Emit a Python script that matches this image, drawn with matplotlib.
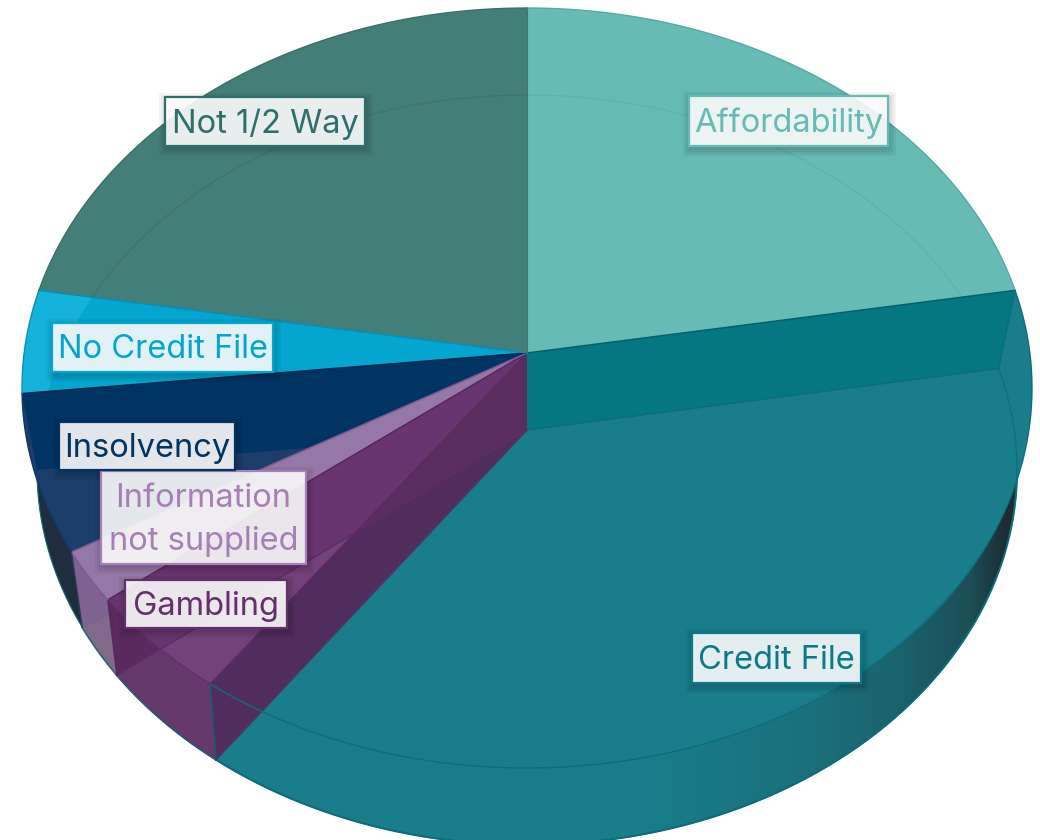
import numpy as np
import matplotlib
matplotlib.use("Agg")
import matplotlib.pyplot as plt
from matplotlib.patches import Polygon, Rectangle
from matplotlib.colors import to_rgb

# order is clockwise from 12 o'clock
categories = ["Affordability", "Credit File", "Gambling", "Information\nnot supplied",
              "Insolvency", "No Credit File", "Not 1/2 Way"]
values = [22.3, 37.6, 4.5, 2.2, 6.7, 4.4, 22.3]

top_colors = ["#66BBB5", "#197D8B", "#74427A", "#9678A8", "#1B3E6A", "#15B2DC", "#447E78"]
rim_colors = ["#66BBB5", "#197D8B", "#66396C", "#80698A", "#1E2E3E", "#15B2DC", "#447E78"]
text_colors = ["#66BBB5", "#0A7A88", "#62306B", "#A680B4", "#003463", "#04A6CF", "#2D6F6A"]
edge_colors = ["#55A9A3", "#0E6E7A", "#5F2E66", "#7C5A92", "#12375E", "#0A8FB5", "#3A6F6A"]

# label boxes: left, top, right, bottom in pixels
boxes = [(689, 96, 888, 146), (692, 633, 861, 683), (125, 580, 287, 628),
         (101, 471, 306, 564), (59, 422, 235, 470), (52, 323, 273, 372), (165, 97, 365, 146)]

CX = 527


def make_face(top, bottom, apex, rx):
    k = (1 - (apex - top) / (bottom - apex)) / (1 + (apex - top) / (bottom - apex))
    b = (apex - top) * (1 + k)
    a = rx * np.sqrt(1 - k * k)
    return {"a": a, "b": b, "k": k, "apex": apex}


FACE_A = make_face(8, 768, 353, 505)
FACE_B = make_face(95, 845, 430, 490)


def rim(face, theta):
    u = np.sin(theta)
    v = np.cos(theta)
    d = 1 + face["k"] * v
    return np.column_stack([CX + face["a"] * u / d, face["apex"] - face["b"] * v / d])


def arc(face, t0, t1):
    return rim(face, np.linspace(t0, t1, 200))


def sector(face, t0, t1):
    return np.vstack([[CX, face["apex"]], arc(face, t0, t1)])


def wall(t):
    a = rim(FACE_A, np.array([t]))[0]
    b = rim(FACE_B, np.array([t]))[0]
    return np.array([[CX, FACE_A["apex"]], a, b, [CX, FACE_B["apex"]]])


def poly(ax, pts, color, z, clip=None):
    p = Polygon(pts, closed=True, facecolor=color, edgecolor="none", zorder=z)
    ax.add_patch(p)
    if clip is not None:
        p.set_clip_path(Polygon(clip, closed=True, transform=ax.transData))
    return p


plt.rcParams["font.family"] = ["Inter", "DejaVu Sans"]
fig = plt.figure(figsize=(10.4, 8.4), dpi=100)
ax = fig.add_axes([0, 0, 1, 1])

edges = np.radians(np.cumsum([0] + values) * 3.6)
t = [(edges[i], edges[i + 1]) for i in range(len(values))]
full_b = arc(FACE_B, 0, 2 * np.pi)

# lower rim of the credit slice, goes dark to the right
stops_x = [0, 640, 800, 900, 970, 1005, 1040]
stops_c = ["#197D8B", "#197D8B", "#1A717D", "#1A626C", "#1D4E57", "#1B2D33", "#1B2D33"]
xs = np.arange(0, 1040)
grad = np.column_stack([np.interp(xs, stops_x, [to_rgb(c)[i] for c in stops_c]) for i in range(3)])
im = ax.imshow(grad[None, :, :], extent=(0, 1040, 840, 0), aspect="auto", zorder=1)
im.set_clip_path(Polygon(sector(FACE_B, *t[1]), closed=True, transform=ax.transData))
ax.set_xlim(0, 1040)
ax.set_ylim(840, 0)
ax.axis("off")

for i in [2, 3, 4]:
    poly(ax, sector(FACE_B, *t[i]), rim_colors[i], 2)
ax.plot(*arc(FACE_B, *t[1]).T, color="#0B6874", lw=1.4, zorder=2.5)
ax.plot(*arc(FACE_B, *t[2]).T, color="#5E2C66", lw=1.4, zorder=2.5)
ax.plot(*arc(FACE_B, *t[3]).T, color="#7C5F8C", lw=1.4, zorder=2.5)

# top face
for i in range(len(values)):
    poly(ax, sector(FACE_A, *t[i]), top_colors[i], 3)

# no credit file slice is deeper inside the back ellipse
poly(ax, sector(FACE_A, *t[5]), "#04A6CF", 3.1, clip=full_b)

# faint back rim showing through
for i, col in [(0, "#5EB2AC"), (6, "#3D746F")]:
    l, = ax.plot(*arc(FACE_B, *t[i]).T, color=col, lw=0.9, zorder=3.2)
    l.set_clip_path(Polygon(sector(FACE_A, *t[i]), closed=True, transform=ax.transData))
ax.plot(*arc(FACE_B, t[1][0], t[1][0] + 0.45).T, color="#11707C", lw=1.0, zorder=3.2)

# walls
a2, a3, a4, a5 = edges[2], edges[3], edges[4], edges[5]
poly(ax, wall(a4), "#7E6290", 3.5)
poly(ax, sector(FACE_A, *t[3]), top_colors[3], 3.6)
poly(ax, wall(edges[1]), "#057782", 4)
poly(ax, wall(a5), "#003463", 4, clip=sector(FACE_A, *t[4]))
poly(ax, wall(a3), "#5A2A5E", 4)
poly(ax, wall(a3), "#693570", 4.1, clip=sector(FACE_A, *t[2]))
poly(ax, wall(a2), "#502D5C", 4.2)
poly(ax, wall(a3), "#5A2D5F", 4.3, clip=wall(a2))

# edge lines from the two centres
spokes = [(edges[1], "#05606C", FACE_A), (edges[1], "#0B6E7A", FACE_B),
          (a2, "#5A2C62", FACE_A), (a2, "#4A3A66", FACE_B),
          (a3, "#55285A", FACE_A), (a3, "#5E2C66", FACE_B),
          (a4, "#7C5A92", FACE_A), (a5, "#00264A", FACE_A), (edges[6], "#0490B6", FACE_A)]
for th, col, f in spokes:
    p = np.vstack([[CX, f["apex"]], rim(f, np.array([th]))])
    ax.plot(p[:, 0], p[:, 1], color=col, lw=1.1, zorder=5)
ax.plot([CX, CX], [8, 353], color="#3F7570", lw=0.8, zorder=5)
for th, col in [(edges[1], "#0B6E7A"), (a2, "#0B5F6F"), (a3, "#54285A"), (a4, "#2B3A50")]:
    ax.plot(*wall(th)[1:3].T, color=col, lw=1.0, zorder=5)

# outline
for i in range(len(values)):
    ax.plot(*arc(FACE_A, *t[i]).T, color=edge_colors[i], lw=1.0, zorder=5)
ax.plot(*arc(FACE_B, t[1][0] + 0.6, t[4][1]).T, color="#0E6E7A", lw=0.8, zorder=2.5)

# labels
for cat, box, col in zip(categories, boxes, text_colors):
    x0, y0, x1, y1 = box
    # soft shadow
    for grow in [7, 5, 3, 1]:
        ax.add_patch(Rectangle((x0 + 1 - grow, y0 + 3 - grow), x1 - x0 + 2 * grow, y1 - y0 + 2 * grow,
                               facecolor="#000000", alpha=0.045, edgecolor="none", zorder=6))
    ax.add_patch(Rectangle((x0, y0), x1 - x0, y1 - y0, facecolor=(1, 1, 1, 0.89),
                           edgecolor=col, linewidth=1.6, zorder=7))
    ax.text((x0 + x1) / 2, (y0 + y1) / 2 + 2.5, cat, color=col, fontsize=23.5, ha="center",
            va="center", linespacing=1.5, zorder=8)

fig.savefig("out.png", dpi=100)
